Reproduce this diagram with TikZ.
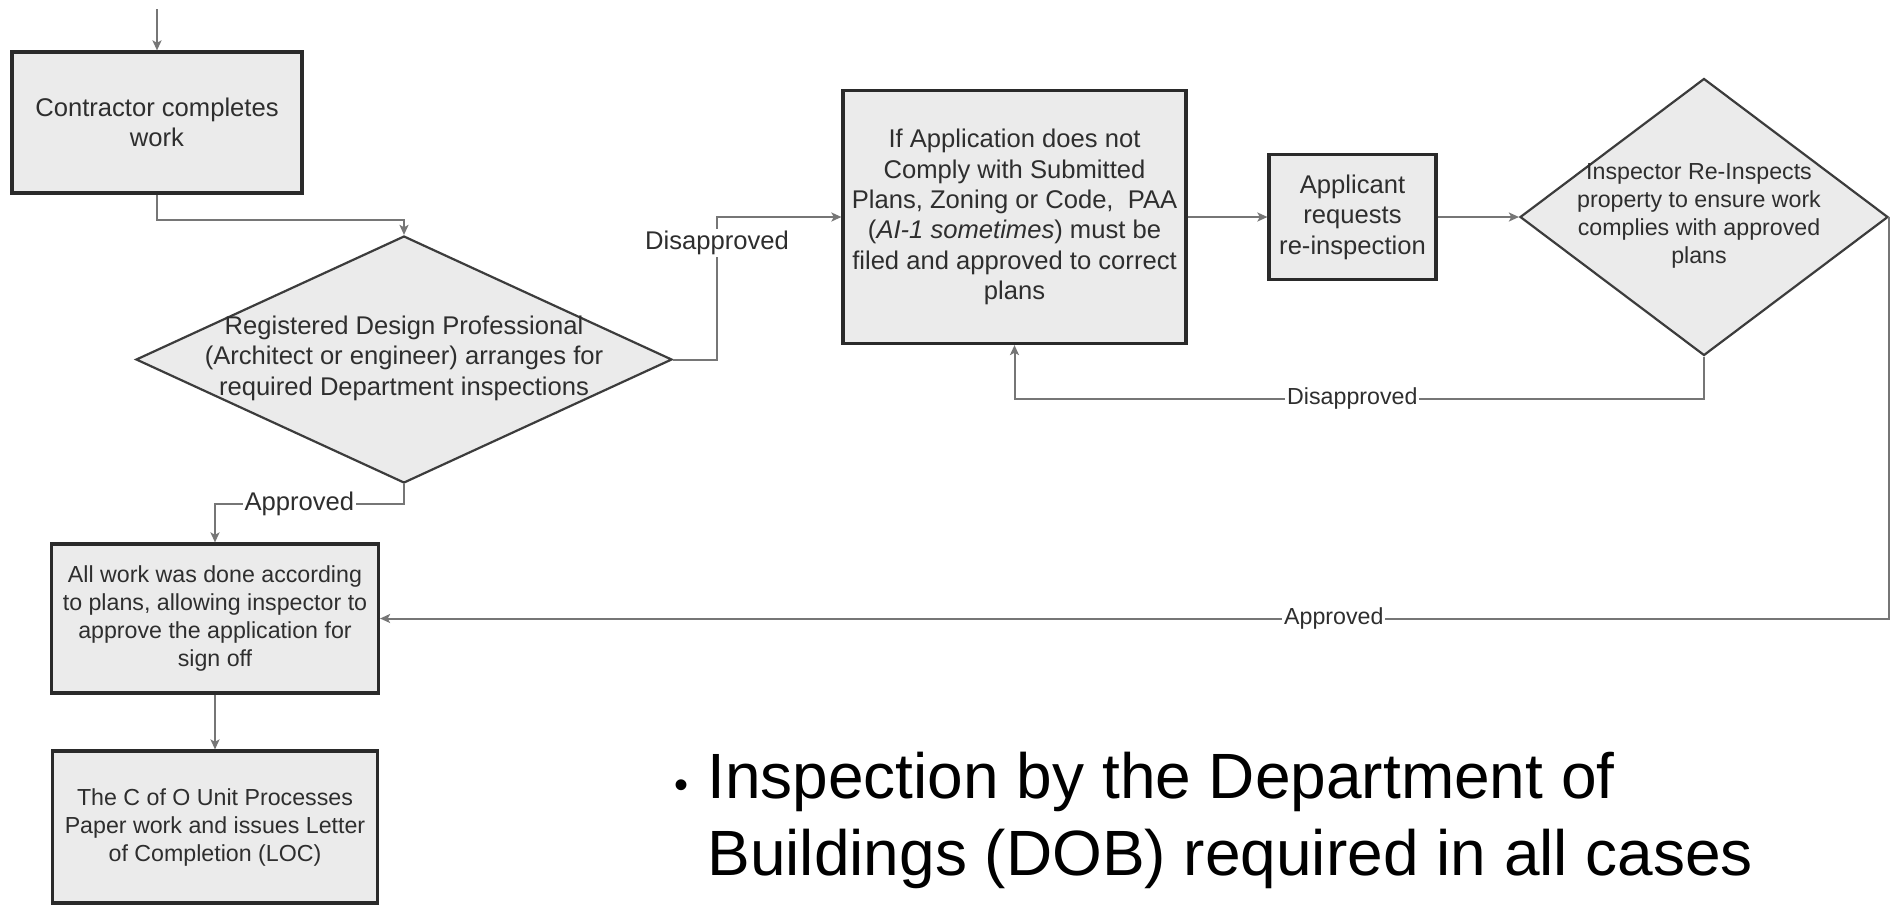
\documentclass[tikz,border=0pt]{standalone}
\usepackage{fontspec}
\setmainfont{Liberation Sans}
\usetikzlibrary{shapes.geometric,arrows.meta,calc}
\definecolor{boxfill}{HTML}{EBEBEB}
\definecolor{boxline}{HTML}{2A2A2A}
\definecolor{dline}{HTML}{3C3C3C}
\definecolor{connc}{HTML}{767676}
\definecolor{txt}{HTML}{2E2E2E}
\newcommand{\fbig}{\fontsize{12.8}{15.2}\selectfont}
\newcommand{\fsmall}{\fontsize{11.6}{14}\selectfont}
\begin{document}
\begin{tikzpicture}[x=0.5pt,y=-0.5pt,
  stepbox/.style={draw=boxline, line width=1.6pt, fill=boxfill, inner sep=0pt, align=center, text=txt},
  decision/.style={diamond, draw=dline, line width=1.1pt, fill=boxfill, inner sep=0pt},
  dtext/.style={align=center, text=txt, inner sep=0pt},
  arr/.style={draw=connc, line width=1pt, -{Stealth[length=5pt,width=4.5pt,inset=1.2pt]}},
  lbl/.style={fill=white, inner sep=1pt, text=txt, font=\fbig},
  lbls/.style={fill=white, inner sep=1pt, text=txt, font=\fsmall}]
\useasboundingbox (0,0) rectangle (1890,907);
\fill[white] (0,0) rectangle (1890,907);

\node[stepbox, minimum width=145pt, minimum height=70.5pt, font=\fbig] (b1) at (157,122.5) {Contractor completes\\work};
\node[decision, minimum width=268pt, minimum height=123.5pt] (d1) at (404,359.5) {};
\node[dtext, font=\fbig] (d1t) at (404,358) {Registered Design Professional\\(Architect or engineer) arranges for\\required Department inspections};
\node[stepbox, minimum width=171.5pt, minimum height=126.5pt, font=\fbig] (b2) at (1014.5,217) {If Application does not\\Comply with Submitted\\Plans, Zoning or Code,~ PAA\\(\textit{AI-1 sometimes}) must be\\filed and approved to correct\\plans};
\node[stepbox, minimum width=83.5pt, minimum height=62.5pt, font=\fbig] (b3) at (1352.5,217) {Applicant\\requests\\re-inspection};
\node[decision, minimum width=184pt, minimum height=138.5pt] (d2) at (1704,217) {};
\node[dtext, font=\fsmall] (d2t) at (1699,216) {Inspector Re-Inspects\\property to ensure work\\complies with approved\\plans};
\node[stepbox, minimum width=163.5pt, minimum height=74.5pt, font=\fsmall] (b4) at (215,618.5) {All work was done according\\to plans, allowing inspector to\\approve the application for\\sign off};
\node[stepbox, minimum width=162.5pt, minimum height=76pt, font=\fsmall] (b5) at (215,827) {The C of O Unit Processes\\Paper work and issues Letter\\of Completion (LOC)};

\coordinate (start) at (157,9);
\draw[arr] (start) -- (b1.north);
\draw[arr] (b1.south) -- ++(0,25) -| (d1.north);
\draw[arr] (d1.east) -- ++(44,0) |- node[lbl, pos=0.408]{Disapproved} (b2.west);
\draw[arr] (b2.east) -- (b3.west);
\draw[arr] (b3.east) -- (d2.west);
\draw[arr] (d2.south) -- ++(0,42) -| node[lbls, pos=0.255]{Disapproved} (b2.south);
\draw[arr] (d2.east) |- node[lbls, pos=0.684]{Approved} (b4.east);
\draw[arr] (d1.south) -- ++(0,20) -| node[lbl, pos=0.277]{Approved} (b4.north);
\draw[arr] (b4.south) -- (b5.north);

\node[anchor=base west, inner sep=0pt, font=\fontsize{32}{38}\selectfont] (t1) at (707,798) {Inspection by the Department of};
\node[anchor=base west, inner sep=0pt, font=\fontsize{32}{38}\selectfont] (t2) at (707,875) {Buildings (DOB) required in all cases};
\node[anchor=base, inner sep=0pt, font=\fontsize{20}{24}\selectfont] (bul) at (681,798) {\textbullet};
\end{tikzpicture}
\end{document}
